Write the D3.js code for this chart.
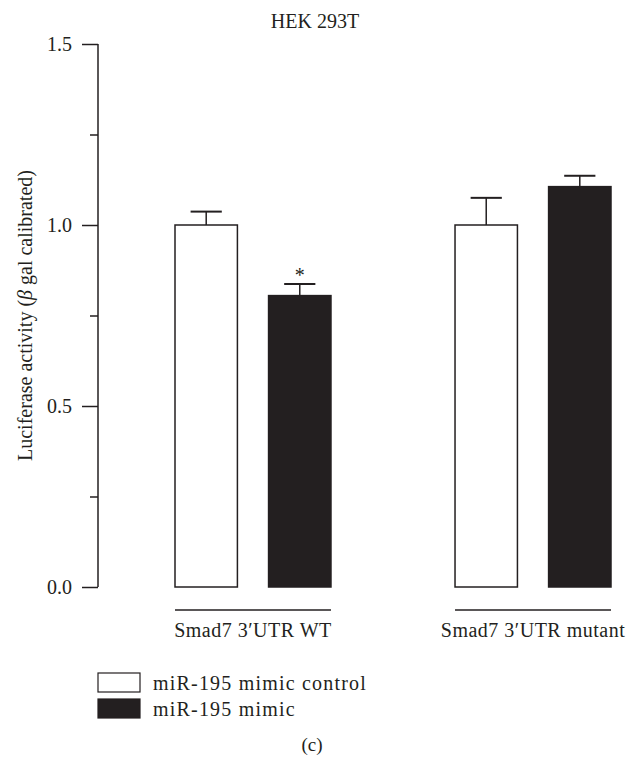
<!DOCTYPE html>
<html>
<head>
<meta charset="utf-8">
<script src="https://cdn.jsdelivr.net/npm/d3@7/dist/d3.min.js"></script>
<style>
  html, body { margin: 0; padding: 0; background: #fff; }
  svg { display: block; }
  text { font-family: "Liberation Serif", "DejaVu Serif", serif; fill: #231f20; }
</style>
</head>
<body>
<svg id="chart" width="636" height="758"></svg>
<script>
// ---- data ----
const groups = ["Smad7 3\u2032UTR WT", "Smad7 3\u2032UTR mutant"];
const series = ["miR-195 mimic control", "miR-195 mimic"];
const meanValues = [
  [1.00, 0.805],   // WT: control, mimic
  [1.00, 1.106]    // mutant: control, mimic
];
const errorValues = [
  [0.037, 0.032],
  [0.075, 0.030]
];
const significance = [
  ["", "*"],
  ["", ""]
];
const majorTicks = [0, 0.5, 1.0, 1.5];
const minorTicks = [0.25, 0.75, 1.25];
const title = "HEK 293T";
const yLabel = "Luciferase activity (";
const panelLabel = "(c)";

// ---- layout ----
const ink = "#231f20";
const svg = d3.select("#chart");

const y = d3.scaleLinear().domain([0, 1.5]).range([587, 44]);
const x0 = d3.scaleBand().domain(groups).range([175, 611]).paddingInner(0.443).paddingOuter(0);
const x1 = d3.scaleBand().domain(series).range([0, x0.bandwidth()]).paddingInner(0.333).paddingOuter(0);
const fills = { [series[0]]: "#ffffff", [series[1]]: ink };

const axisX = 98;

// Y axis major
const yAxis = d3.axisLeft(y).tickValues(majorTicks).tickFormat(d3.format(".1f")).tickSize(16).tickPadding(10);
const gy = svg.append("g").attr("transform", `translate(${axisX},0)`).call(yAxis);
gy.select(".domain").attr("stroke", ink).attr("stroke-width", 1.5).attr("d", `M0,${y(1.5)}V${y(0)}`);
gy.selectAll(".tick line").attr("stroke", ink).attr("stroke-width", 1.5);
gy.selectAll(".tick text").style("font-size", "20px").attr("fill", ink)
  .style("font-family", '"Liberation Serif", serif');

// minor ticks
const yMinor = d3.axisLeft(y).tickValues(minorTicks).tickSize(8).tickFormat("");
const gm = svg.append("g").attr("transform", `translate(${axisX},0)`).call(yMinor);
gm.select(".domain").remove();
gm.selectAll(".tick line").attr("stroke", ink).attr("stroke-width", 1.5);

// Y label
const yl = svg.append("text")
  .attr("transform", `translate(32,${(y(0) + y(1.5)) / 2}) rotate(-90)`)
  .attr("text-anchor", "middle")
  .style("font-size", "20px");
yl.append("tspan").text(yLabel);
yl.append("tspan").text("\u03B2").style("font-style", "italic");
yl.append("tspan").text(" gal calibrated)");

// title
svg.append("text").attr("x", 315).attr("y", 28).attr("text-anchor", "middle")
  .style("font-size", "20px").text(title);

// bars
const gGroups = svg.append("g");
groups.forEach((g, gi) => {
  const gx = x0(g);
  series.forEach((s, si) => {
    const v = meanValues[gi][si];
    const e = errorValues[gi][si];
    const bx = gx + x1(s);
    const bw = x1.bandwidth();
    const cx = bx + bw / 2;
    // error bar (upper only)
    gGroups.append("line").attr("x1", cx).attr("x2", cx).attr("y1", y(v)).attr("y2", y(v + e))
      .attr("stroke", ink).attr("stroke-width", 1.5);
    gGroups.append("line").attr("x1", cx - bw / 4).attr("x2", cx + bw / 4).attr("y1", y(v + e)).attr("y2", y(v + e))
      .attr("stroke", ink).attr("stroke-width", 2);
    gGroups.append("rect").attr("x", bx).attr("y", y(v)).attr("width", bw).attr("height", y(0) - y(v))
      .attr("fill", fills[s]).attr("stroke", ink).attr("stroke-width", 1.5);
    if (significance[gi][si]) {
      gGroups.append("text").attr("x", cx).attr("y", y(v + e) - 2).attr("text-anchor", "middle")
        .style("font-size", "20px").text(significance[gi][si]);
    }
  });
  // group underline and label
  gGroups.append("line").attr("x1", gx).attr("x2", gx + x0.bandwidth()).attr("y1", 610).attr("y2", 610)
    .attr("stroke", ink).attr("stroke-width", 1.5);
  gGroups.append("text").attr("x", gx + x0.bandwidth() / 2).attr("y", 637).attr("text-anchor", "middle")
    .style("font-size", "20px").style("letter-spacing", "0.5px").text(g);
});

// legend
const legend = svg.append("g");
series.forEach((s, i) => {
  const ly = 673 + i * 26;
  legend.append("rect").attr("x", 98).attr("y", ly).attr("width", 42).attr("height", 19)
    .attr("fill", fills[s]).attr("stroke", ink).attr("stroke-width", 1.2);
  legend.append("text").attr("x", 153).attr("y", ly + 17)
    .style("font-size", "20px").style("letter-spacing", "1.2px").text(s);
});

// panel label
svg.append("text").attr("x", 312).attr("y", 751).attr("text-anchor", "middle")
  .style("font-size", "19px").text(panelLabel);
</script>
</body>
</html>
